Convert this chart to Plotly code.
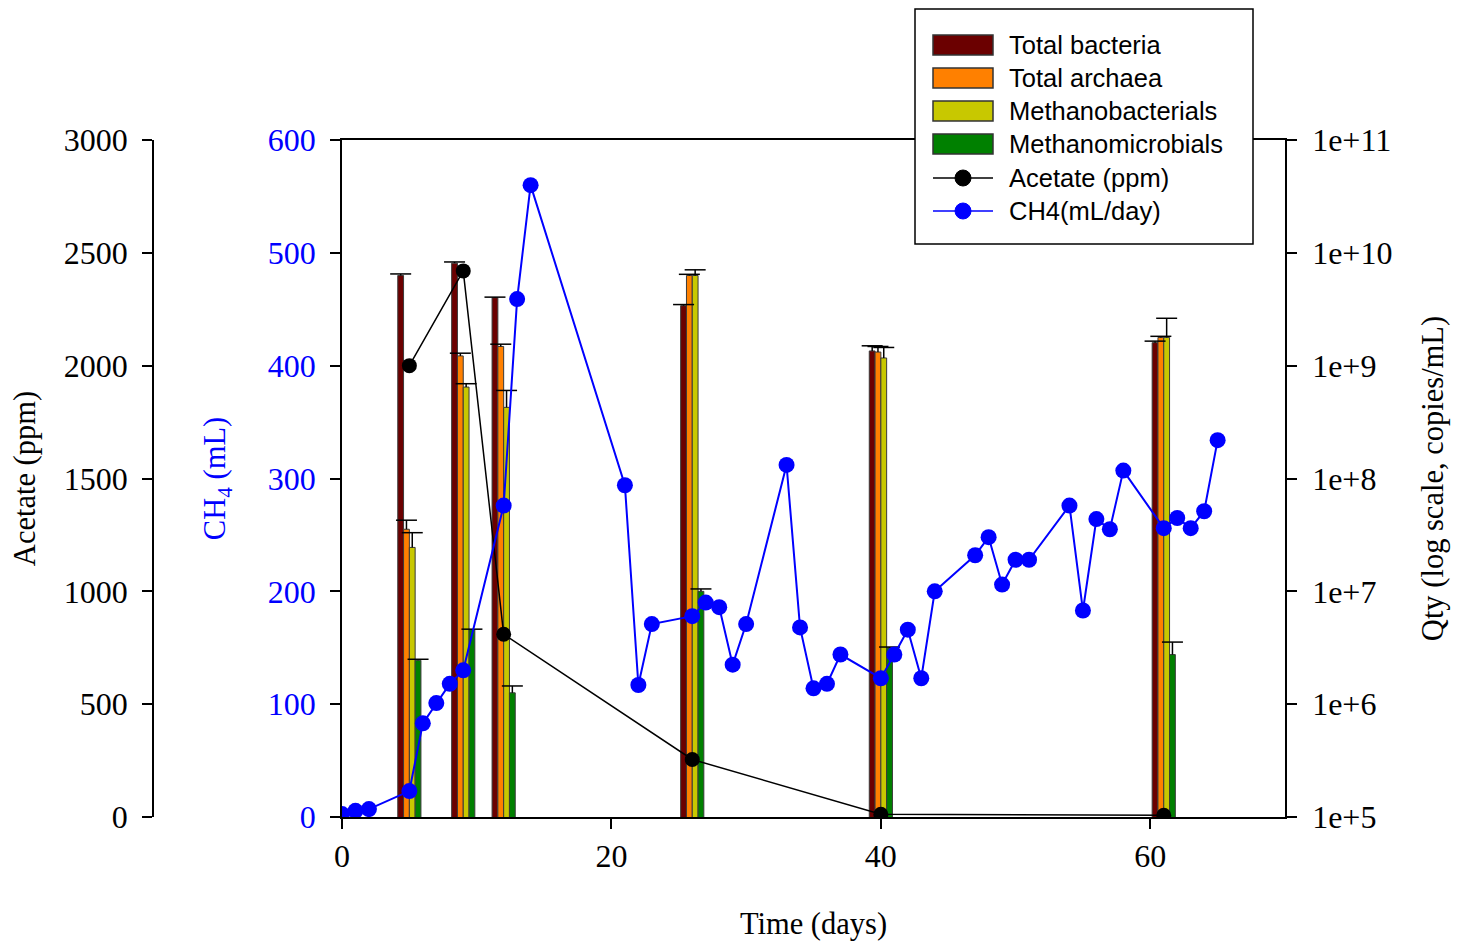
import plotly.graph_objects as go

# ---------------- data ----------------
q_days = [5, 9, 12, 26, 40, 61]
total_bacteria = [6.3e9, 8.1e9, 4.0e9, 3.4e9, 1.35e9, 1.6e9]
total_bacteria_err = [0.2e9, 0.2e9, 0.05e9, 0.08e9, 0.15e9, 0.05e9]
total_archaea = [3.55e7, 1.22e9, 1.48e9, 6.3e9, 1.32e9, 1.78e9]
total_archaea_err = [0.72e7, 0.07e9, 0.07e9, 0.15e9, 0.16e9, 0.04e9]
methanobacterials = [2.45e7, 6.46e8, 4.27e8, 6.3e9, 1.17e9, 1.78e9]
methanobacterials_err = [0.86e7, 0.46e8, 1.76e8, 0.77e9, 0.28e9, 0.85e9]
methanomicrobials = [2.45e6, 4.57e6, 1.26e6, 1.0e7, 3.16e6, 2.75e6]
methanomicrobials_err = [0.05e6, 0.05e6, 0.19e6, 0.05e7, 0.05e6, 0.8e6]

acetate_days = [5, 9, 12, 26, 40, 61]
acetate_ppm = [2000, 2420, 810, 255, 12, 8]

ch4_days = [0, 1, 2, 5, 6, 7, 8, 9, 12, 13, 14, 21, 22, 23, 26, 27, 28, 29, 30,
            33, 34, 35, 36, 37, 40, 41, 42, 43, 44, 47, 48, 49, 50, 51, 54, 55,
            56, 57, 58, 61, 62, 63, 64, 65]
ch4_ml = [2.6, 5.5, 7, 23, 83, 101, 118, 130, 276, 459, 560, 294, 117, 171, 178,
          190, 186, 135, 171, 312, 168, 114, 118, 144, 123, 144, 166, 123, 200,
          232, 248, 206, 228, 228, 276, 183, 264, 255, 307, 256, 265, 256, 271, 334]

x_ticks = [0, 20, 40, 60]
qty_tickvals = [1e5, 1e6, 1e7, 1e8, 1e9, 1e10, 1e11]
qty_ticktext = ["1e+5", "1e+6", "1e+7", "1e+8", "1e+9", "1e+10", "1e+11"]

series_names = ["Total bacteria", "Total archaea", "Methanobacterials", "Methanomicrobials"]
series_vals = [total_bacteria, total_archaea, methanobacterials, methanomicrobials]
series_errs = [total_bacteria_err, total_archaea_err, methanobacterials_err, methanomicrobials_err]
line_names = ["Acetate (ppm)", "CH4(mL/day)"]

# ---------------- style ----------------
bar_colors = ["#6B0000", "#FF8000", "#C8C800", "#008000"]
BAR_W = 0.43
bar_offsets = [-2 * BAR_W, -BAR_W, 0.0, BAR_W]
BLUE = "#0000FF"
SERIF = "Liberation Serif"
SANS = "Liberation Sans"
TICK_FS = 32
TITLE_FS = 30.5

# pixel -> paper helpers (plot area 153..1285 x, 140..817 y)
L, R, T, B = 153, 179, 140, 124
W, H = 1464, 941
PW, PH = W - L - R, H - T - B


def px_x(p):
    return (p - L) / PW


def px_y(p):
    return (H - B - p) / PH


fig = go.Figure()

for name, vals, errs, col, off in zip(series_names, series_vals, series_errs, bar_colors, bar_offsets):
    fig.add_trace(go.Bar(
        x=q_days, y=vals, name=name, width=BAR_W, offset=off,
        marker=dict(color=col, line=dict(color="#3a3a3a", width=1)),
        error_y=dict(type="data", array=errs, arrayminus=[0] * len(errs), symmetric=False,
                     width=0, thickness=1.5, color="black"),
        yaxis="y", showlegend=False,
    ))
    fig.add_trace(go.Scatter(
        x=[d + off + BAR_W / 2 for d in q_days],
        y=[v + e for v, e in zip(vals, errs)],
        mode="markers", yaxis="y", showlegend=False, hoverinfo="skip",
        marker=dict(symbol="line-ew", size=15, color="black",
                    line=dict(color="black", width=1.5)),
    ))

fig.add_trace(go.Scatter(
    x=acetate_days, y=acetate_ppm, name=line_names[0], mode="lines+markers",
    line=dict(color="black", width=1.5), marker=dict(color="black", size=15),
    yaxis="y2", showlegend=False,
))
fig.add_trace(go.Scatter(
    x=ch4_days, y=ch4_ml, name=line_names[1], mode="lines+markers",
    line=dict(color=BLUE, width=2), marker=dict(color=BLUE, size=16),
    yaxis="y3", showlegend=False,
))

axis_common = dict(showgrid=False, zeroline=False, showline=True, linecolor="black",
                   linewidth=1.5, ticks="outside", ticklen=10, tickwidth=1.5,
                   tickcolor="black", automargin=False)

fig.update_layout(
    template="none",
    width=W, height=H,
    margin=dict(l=L, r=R, t=T, b=B, pad=0),
    paper_bgcolor="white", plot_bgcolor="white",
    barmode="overlay",
    showlegend=False,
    font=dict(family=SERIF, size=TICK_FS, color="black"),
    xaxis=dict(domain=[px_x(342), 1.0], range=[0, 70], tickvals=x_ticks, mirror=True,
               tickfont=dict(family=SERIF, size=TICK_FS),
               title=dict(text="Time (days)", font=dict(family=SERIF, size=TITLE_FS), standoff=42),
               anchor="y", **axis_common),
    yaxis=dict(type="log", range=[5, 11], side="right", anchor="x",
               tickvals=qty_tickvals, ticktext=qty_ticktext,
               tickfont=dict(family=SERIF, size=TICK_FS), ticklabelstandoff=9,
               title=dict(text="Qty (log scale, copies/mL)", font=dict(family=SERIF, size=TITLE_FS),
                          standoff=30),
               **axis_common),
    yaxis2=dict(overlaying="y", anchor="free", position=0, side="left",
                range=[0, 3000], dtick=500, tickfont=dict(family=SERIF, size=TICK_FS),
                ticklabelstandoff=8,
                title=dict(text="Acetate (ppm)", font=dict(family=SERIF, size=TITLE_FS), standoff=18),
                **axis_common),
    yaxis3=dict(overlaying="y", anchor="x", side="left",
                range=[0, 600], dtick=100, tickfont=dict(family=SERIF, size=TICK_FS, color=BLUE),
                ticklabelstandoff=8,
                title=dict(text="CH<sub>4</sub> (mL)", font=dict(family=SERIF, size=TITLE_FS, color=BLUE),
                           standoff=33),
                **axis_common),
)

# ---------------- custom legend ----------------
shapes = [dict(type="rect", xref="paper", yref="paper",
               x0=px_x(915), x1=px_x(1253), y0=px_y(244), y1=px_y(9),
               line=dict(color="black", width=1.5), fillcolor="white", layer="above")]
annotations = []
rows = [45, 78, 111, 144, 178, 211]
for i, col in enumerate(bar_colors):
    r = rows[i]
    shapes.append(dict(type="rect", xref="paper", yref="paper",
                       x0=px_x(933), x1=px_x(993), y0=px_y(r + 10), y1=px_y(r - 10),
                       line=dict(color="#333333", width=1.5), fillcolor=col, layer="above"))
for j, col in enumerate(["black", BLUE]):
    r = rows[4 + j]
    shapes.append(dict(type="line", xref="paper", yref="paper",
                       x0=px_x(933), x1=px_x(993), y0=px_y(r), y1=px_y(r),
                       line=dict(color=col, width=1.5), layer="above"))
    shapes.append(dict(type="circle", xref="paper", yref="paper",
                       x0=px_x(955), x1=px_x(971), y0=px_y(r + 8), y1=px_y(r - 8),
                       line=dict(color=col, width=1), fillcolor=col, layer="above"))
for name, r in zip(series_names + line_names, rows):
    annotations.append(dict(text=name, xref="paper", yref="paper", x=px_x(1007), y=px_y(r),
                            xanchor="left", yanchor="middle", showarrow=False,
                            font=dict(family=SANS, size=25.5, color="black")))

fig.update_layout(shapes=shapes, annotations=annotations)

fig.write_html("out.html", config={"displayModeBar": False},
               post_script="document.body.style.margin='0';")
